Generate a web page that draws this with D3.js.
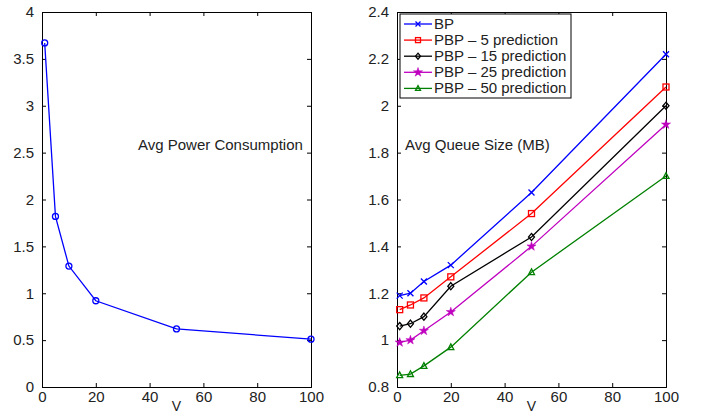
<!DOCTYPE html>
<html>
<head>
<meta charset="utf-8">
<script src="https://cdn.jsdelivr.net/npm/d3@7"></script>
<style>
  body { margin: 0; background: #fff; }
  svg { font-family: "Liberation Sans", Arial, sans-serif; }
</style>
</head>
<body>
<div id="chart"></div>
<script>
const width = 701, height = 415;

// shared x values
const vValues = [1, 5, 10, 20, 50, 100];
const xTicks = [0, 20, 40, 60, 80, 100];

// left panel
const powerValues = [3.67, 1.82, 1.29, 0.92, 0.62, 0.51];
const powerTicks = [0, 0.5, 1, 1.5, 2, 2.5, 3, 3.5, 4];

// right panel
const seriesNames = ["BP", "PBP – 5 prediction", "PBP – 15 prediction", "PBP – 25 prediction", "PBP – 50 prediction"];
const seriesColors = ["#0000ff", "#ff0000", "#000000", "#bf00bf", "#008000"];
const seriesMarkers = ["x", "square", "diamond", "star", "triangle"];
const bpValues = [1.19, 1.20, 1.25, 1.32, 1.63, 2.22];
const pbp5Values = [1.13, 1.15, 1.18, 1.27, 1.54, 2.08];
const pbp15Values = [1.06, 1.07, 1.10, 1.23, 1.44, 2.00];
const pbp25Values = [0.99, 1.00, 1.04, 1.12, 1.40, 1.92];
const pbp50Values = [0.85, 0.855, 0.89, 0.97, 1.29, 1.70];
const queueTicks = [0.8, 1, 1.2, 1.4, 1.6, 1.8, 2, 2.2, 2.4];

const svg = d3.select("#chart").append("svg")
  .attr("width", width)
  .attr("height", height);

function drawMarker(g, type, color, size) {
  const s = size;
  if (type === "o") {
    g.append("circle").attr("r", s).attr("fill", "none").attr("stroke", color).attr("stroke-width", 1.3);
  } else if (type === "x") {
    g.append("path").attr("d", `M${-s},${-s}L${s},${s}M${-s},${s}L${s},${-s}`)
      .attr("stroke", color).attr("stroke-width", 1.3);
  } else if (type === "square") {
    g.append("rect").attr("x", -s).attr("y", -s).attr("width", 2 * s).attr("height", 2 * s)
      .attr("fill", "none").attr("stroke", color).attr("stroke-width", 1.3);
  } else if (type === "diamond") {
    g.append("path").attr("d", `M0,${-s * 1.2}L${s},0L0,${s * 1.2}L${-s},0Z`)
      .attr("fill", "none").attr("stroke", color).attr("stroke-width", 1.3);
  } else if (type === "star") {
    g.append("path").attr("d", d3.symbol(d3.symbolStar, 26)())
      .attr("fill", color).attr("stroke", color).attr("stroke-width", 0.5);
  } else if (type === "triangle") {
    g.append("path").attr("d", `M0,${-s * 1.1}L${s},${s * 0.8}L${-s},${s * 0.8}Z`)
      .attr("fill", "none").attr("stroke", color).attr("stroke-width", 1.3);
  }
}

function drawPanel(left, right, yDomain, yTicks, series, label, labelX) {
  const top = 12, bottom = 387;
  const x = d3.scaleLinear().domain([0, 100]).range([left, right]);
  const y = d3.scaleLinear().domain(yDomain).range([bottom, top]);
  const g = svg.append("g");

  const tickLen = 4;
  const fmt = d => d3.format("")(+d.toFixed(2));

  g.append("g").attr("transform", `translate(0,${bottom})`)
    .call(d3.axisBottom(x).tickValues(xTicks).tickSize(-tickLen).tickPadding(4).tickFormat(fmt));
  g.append("g").attr("transform", `translate(0,${top})`)
    .call(d3.axisTop(x).tickValues(xTicks).tickSize(-tickLen).tickFormat(""));
  g.append("g").attr("transform", `translate(${left},0)`)
    .call(d3.axisLeft(y).tickValues(yTicks).tickSize(-tickLen).tickPadding(8).tickFormat(fmt));
  g.append("g").attr("transform", `translate(${right},0)`)
    .call(d3.axisRight(y).tickValues(yTicks).tickSize(-tickLen).tickFormat(""));

  g.selectAll(".domain").attr("stroke", "#000").attr("stroke-width", 1);
  g.selectAll(".tick line").attr("stroke", "#000");
  g.selectAll(".tick text").attr("font-size", 15).attr("fill", "#222")
    .attr("font-family", "Liberation Sans, Arial, sans-serif");

  const line = d3.line().x((d, i) => x(vValues[i])).y(d => y(d));
  series.forEach(s => {
    g.append("path").datum(s.values)
      .attr("d", line).attr("fill", "none")
      .attr("stroke", s.color).attr("stroke-width", 1.3);
    s.values.forEach((v, i) => {
      const m = g.append("g").attr("transform", `translate(${x(vValues[i])},${y(v)})`);
      drawMarker(m, s.marker, s.color, 3);
    });
  });

  g.append("text").attr("x", labelX).attr("y", 150)
    .attr("font-size", 15).attr("fill", "#222").text(label);

  g.append("text").attr("x", (left + right) / 2).attr("y", 411)
    .attr("text-anchor", "middle").attr("font-size", 14).attr("fill", "#222").text("V");
  return { x, y };
}

drawPanel(42, 311, [0, 4], powerTicks,
  [{ values: powerValues, color: "#0000ff", marker: "o" }],
  "Avg Power Consumption", 138);

const rightSeries = [bpValues, pbp5Values, pbp15Values, pbp25Values, pbp50Values].map((vals, i) => ({
  values: vals, color: seriesColors[i], marker: seriesMarkers[i], name: seriesNames[i]
}));
drawPanel(397, 666, [0.8, 2.4], queueTicks, rightSeries, "Avg Queue Size (MB)", 405);

// legend
const legend = svg.append("g");
legend.append("rect").attr("x", 400).attr("y", 14).attr("width", 171).attr("height", 84)
  .attr("fill", "#fff").attr("stroke", "#000").attr("stroke-width", 1);
rightSeries.forEach((s, i) => {
  const ly = 24 + i * 16.1;
  legend.append("line").attr("x1", 404).attr("x2", 432).attr("y1", ly).attr("y2", ly)
    .attr("stroke", s.color).attr("stroke-width", 1.3);
  const m = legend.append("g").attr("transform", `translate(418,${ly})`);
  drawMarker(m, s.marker, s.color, 2.5);
  legend.append("text").attr("x", 434).attr("y", ly + 5)
    .attr("font-size", 15).attr("fill", "#222").text(s.name);
});
</script>
</body>
</html>
